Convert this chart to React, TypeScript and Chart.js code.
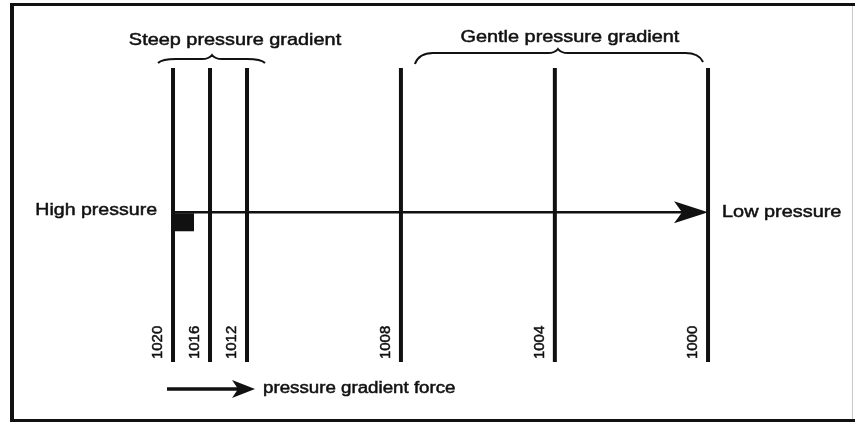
import React, { useEffect, useRef } from "react";
import { Chart, registerables } from "chart.js";

Chart.register(...registerables);

// Isobars (hPa) and their horizontal distance from the high-pressure side (arbitrary km)
const isobarPressures = [1020, 1016, 1012, 1008, 1004, 1000];
const isobarDistances = [0, 100, 200, 616, 1032, 1446];

// Vertical extent of the isobars and height of the force arrow (arbitrary units 0..100)
const isobarBottom = 14.2;
const isobarTop = 83.9;
const arrowLevel = 49.7;

// Text
const groupLabels = ["Steep pressure gradient", "Gentle pressure gradient"];
const groupRanges = [[0, 2], [3, 5]];
const highLabel = "High pressure";
const lowLabel = "Low pressure";
const legendLabel = "pressure gradient force";

const FONT = "'Liberation Sans', Arial, Helvetica, sans-serif";

function stretchedText(ctx: CanvasRenderingContext2D, text: string, x: number, y: number, align: CanvasTextAlign, size: number, sx: number) {
  ctx.save();
  ctx.translate(x, y);
  ctx.scale(sx, 1);
  ctx.font = `${size}px ${FONT}`;
  ctx.textAlign = align;
  ctx.textBaseline = "middle";
  ctx.fillStyle = "#111";
  ctx.strokeStyle = "#111";
  ctx.lineWidth = 0.5;
  ctx.fillText(text, 0, 0);
  ctx.strokeText(text, 0, 0);
  ctx.restore();
}

function brace(ctx: CanvasRenderingContext2D, x1: number, x2: number, xm: number, y: number, yEndL: number, yEndR: number) {
  ctx.save();
  ctx.strokeStyle = "#111";
  ctx.lineWidth = 2;
  ctx.beginPath();
  ctx.moveTo(x1, yEndL);
  ctx.quadraticCurveTo(x1 + 4, y, x1 + 18, y);
  ctx.lineTo(xm - 10, y);
  ctx.quadraticCurveTo(xm - 3, y, xm, y - 4);
  ctx.quadraticCurveTo(xm + 3, y, xm + 10, y);
  ctx.lineTo(x2 - 18, y);
  ctx.quadraticCurveTo(x2 - 4, y, x2, yEndR);
  ctx.stroke();
  ctx.restore();
}

function arrowHead(ctx: CanvasRenderingContext2D, tipX: number, y: number, len: number, half: number, notch: number) {
  ctx.save();
  ctx.fillStyle = "#111";
  ctx.beginPath();
  ctx.moveTo(tipX, y);
  ctx.lineTo(tipX - len, y - half);
  ctx.lineTo(tipX - len + notch, y);
  ctx.lineTo(tipX - len, y + half);
  ctx.closePath();
  ctx.fill();
  ctx.restore();
}

const diagramPlugin = {
  id: "diagram",
  beforeDatasetsDraw(chart: any) {
    const ctx: CanvasRenderingContext2D = chart.ctx;
    const W = chart.width;
    const H = chart.height;
    ctx.save();
    ctx.fillStyle = "#ffffff";
    ctx.fillRect(0, 0, W, H);
    // frame
    ctx.strokeStyle = "#111";
    ctx.lineWidth = 4;
    ctx.beginPath();
    ctx.moveTo(12, 3);
    ctx.lineTo(12, H);
    ctx.stroke();
    ctx.lineWidth = 3;
    ctx.beginPath();
    ctx.moveTo(10, 4.5);
    ctx.lineTo(W, 4.5);
    ctx.moveTo(10, 420.5);
    ctx.lineTo(W, 420.5);
    ctx.stroke();
    ctx.strokeStyle = "#c8c8c8";
    ctx.lineWidth = 1;
    ctx.beginPath();
    ctx.moveTo(W - 2.5, 6);
    ctx.lineTo(W - 2.5, 419);
    ctx.stroke();
    ctx.restore();
  },
  afterDatasetsDraw(chart: any) {
    const ctx: CanvasRenderingContext2D = chart.ctx;
    const xs = chart.scales.x;
    const ys = chart.scales.y;
    const px = isobarDistances.map((d) => xs.getPixelForValue(d));
    const yArrow = ys.getPixelForValue(arrowLevel);
    const yBottom = ys.getPixelForValue(isobarBottom);

    // arrow head at the low-pressure isobar
    arrowHead(ctx, px[px.length - 1], yArrow, 34, 11, 8);
    // block at the high pressure start
    ctx.fillStyle = "#111";
    ctx.fillRect(px[0], yArrow + 1, 21, 18);

    // isobar value labels (rotated)
    isobarPressures.forEach((p, i) => {
      ctx.save();
      ctx.translate(px[i] - 15, yBottom - 3);
      ctx.rotate(-Math.PI / 2);
      ctx.font = `15px ${FONT}`;
      ctx.textAlign = "left";
      ctx.textBaseline = "middle";
      ctx.fillStyle = "#111";
      ctx.strokeStyle = "#111";
      ctx.lineWidth = 0.5;
      ctx.fillText(String(p), 0, 0);
      ctx.strokeText(String(p), 0, 0);
      ctx.restore();
    });

    // braces and group titles
    const [s0, s1] = groupRanges[0];
    brace(ctx, px[s0] - 15, px[s1] + 18, (px[s0] + px[s1]) / 2 + 2, 59, 63, 63);
    stretchedText(ctx, groupLabels[0], (px[s0] + px[s1]) / 2 + 25, 40, "center", 17, 1.17);
    const [g0, g1] = groupRanges[1];
    brace(ctx, px[g0] + 14, px[g1] - 5, px[g0] + 157, 53, 64, 62);
    stretchedText(ctx, groupLabels[1], px[g0] + 169, 37, "center", 17, 1.17);

    // high / low labels
    stretchedText(ctx, highLabel, px[0] - 16, yArrow - 2, "right", 17, 1.15);
    stretchedText(ctx, lowLabel, px[px.length - 1] + 14, yArrow, "left", 17, 1.17);

    // legend
    const ly = 389;
    ctx.save();
    ctx.strokeStyle = "#111";
    ctx.lineWidth = 3.5;
    ctx.beginPath();
    ctx.moveTo(px[0] - 6, ly);
    ctx.lineTo(px[0] + 70, ly);
    ctx.stroke();
    ctx.restore();
    arrowHead(ctx, px[0] + 82, ly, 23, 9, 6);
    stretchedText(ctx, legendLabel, px[0] + 90, ly, "left", 16, 1.17);
  },
};

export default function App() {
  const ref = useRef<HTMLCanvasElement | null>(null);
  useEffect(() => {
    if (!ref.current) return;
    const datasets: any[] = isobarPressures.map((p, i) => ({
      label: String(p),
      data: [
        { x: isobarDistances[i], y: isobarBottom },
        { x: isobarDistances[i], y: isobarTop },
      ],
      borderColor: "#111",
      borderWidth: 4,
      pointRadius: 0,
      showLine: true,
      fill: false,
    }));
    datasets.push({
      label: "force",
      data: [
        { x: isobarDistances[0], y: arrowLevel },
        { x: isobarDistances[isobarDistances.length - 1] - 40, y: arrowLevel },
      ],
      borderColor: "#111",
      borderWidth: 2.5,
      pointRadius: 0,
      showLine: true,
      fill: false,
    });
    const chart = new Chart(ref.current, {
      type: "scatter",
      data: { datasets },
      options: {
        animation: false,
        responsive: true,
        maintainAspectRatio: false,
        layout: { padding: 0 },
        plugins: { legend: { display: false }, tooltip: { enabled: false }, title: { display: false } },
        scales: {
          x: { type: "linear", display: false, min: -467.6, max: 1843.2 },
          y: { type: "linear", display: false, min: 0, max: 100 },
        },
      },
      plugins: [diagramPlugin],
    });
    return () => chart.destroy();
  }, []);
  return (
    <div style={{ position: "absolute", left: 0, top: 0, width: 855, height: 422, background: "#fff" }}>
      <canvas ref={ref} />
    </div>
  );
}
